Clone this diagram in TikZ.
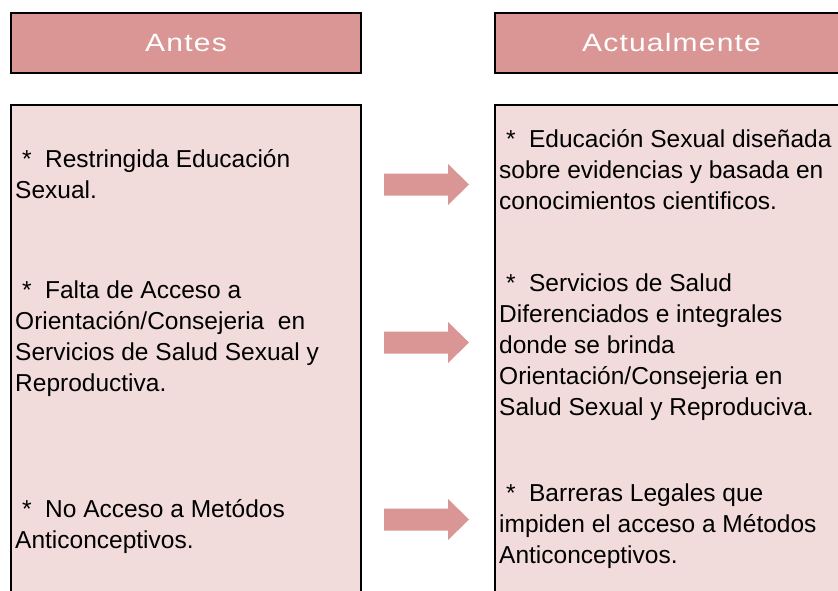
\documentclass[tikz,border=0pt]{standalone}
\usepackage{fontspec}
\setmainfont{Liberation Sans}
\newfontfamily\hdrfont[LetterSpace=4]{Liberation Sans}
\definecolor{hdrfill}{HTML}{D99694}
\definecolor{bodyfill}{HTML}{F2DCDB}
\definecolor{arrowfill}{HTML}{D99694}
\newcommand{\hdrtext}[1]{\scalebox{1.2}[1]{#1}}
\begin{document}
\begin{tikzpicture}[x=1pt,y=-1pt,
  hdrbox/.style={draw=black, line width=2pt, fill=hdrfill, inner sep=0pt,
    minimum height=60pt, text=white, font=\hdrfont\fontsize{25}{30}\selectfont},
  bodybox/.style={draw=black, line width=2pt, fill=bodyfill, inner sep=0pt},
  bodytext/.style={anchor=base west, inner sep=0pt, align=left, text=black,
    font=\fontsize{24.5}{31}\selectfont},
  blockarrow/.pic={\fill[arrowfill] (0,-11) -- (64,-11) -- (64,-20.5) -- (85,0)
    -- (64,20.5) -- (64,11) -- (0,11) -- cycle;}
]
\useasboundingbox (0,0) rectangle (838,590);
\clip (0,0) rectangle (838,590);
\fill[white] (0,0) rectangle (838,590);

% headers
\node[hdrbox, minimum width=350pt] (hantes) at (186,43) {\hdrtext{Antes}};
\node[hdrbox, minimum width=353pt] (hact) at (671.5,43) {\hdrtext{Actualmente}};

% body boxes
\node[bodybox, minimum width=350pt, minimum height=515pt] (bantes) at (186,362.5) {};
\node[bodybox, minimum width=353pt, minimum height=515pt] (bact) at (671.5,362.5) {};

% left texts (anchored at the baseline of the last line)
\node[bodytext] (l1) at (15,198) {\ *\ \ Restringida Educación\\Sexual.};
\node[bodytext] (l2) at (15,391) {\ *\ \ Falta de Acceso a\\Orientación/Consejeria\ \ en\\Servicios de Salud Sexual y\\Reproductiva.};
\node[bodytext] (l3) at (15,548) {\ *\ \ No Acceso a Metódos\\Anticonceptivos.};

% right texts
\node[bodytext] (r1) at (499,209.5) {\ *\ \ Educación Sexual diseñada\\sobre evidencias y basada en\\conocimientos cientificos.};
\node[bodytext] (r2) at (499,415) {\ *\ \ Servicios de Salud\\Diferenciados e integrales\\donde se brinda\\Orientación/Consejeria en\\Salud Sexual y Reproduciva.};
\node[bodytext] (r3) at (499,563) {\ *\ \ Barreras Legales que\\impiden el acceso a Métodos\\Anticonceptivos.};

% arrows
\pic at (384,184.5) {blockarrow};
\pic at (384,342.5) {blockarrow};
\pic at (384,519.5) {blockarrow};
\end{tikzpicture}
\end{document}
